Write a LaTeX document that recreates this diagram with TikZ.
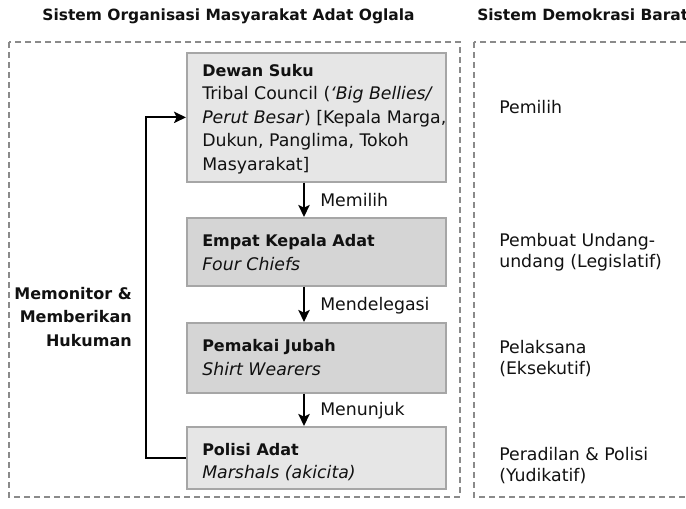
\documentclass[tikz,border=0pt]{standalone}
\usepackage{fontspec}
\setmainfont{DejaVu Sans}
\usetikzlibrary{arrows.meta}
\definecolor{lightbox}{HTML}{E6E6E6}
\definecolor{darkbox}{HTML}{D5D5D5}
\definecolor{boxline}{HTML}{A6A6A6}
\definecolor{dashline}{HTML}{8A8A8A}
\definecolor{ink}{HTML}{111111}
\begin{document}
\begin{tikzpicture}[x=0.75pt,y=-0.75pt,
  panel/.style={draw=dashline, line width=1.4pt, dash pattern=on 4.3pt off 3.2pt},
  orgbox/.style={draw=boxline, line width=1.3pt, minimum width=259*0.75pt, inner sep=0pt, anchor=north west},
  boxtext/.style={anchor=north west, align=left, inner sep=0pt, text=ink, font=\fontsize{13}{17.6}\selectfont},
  boxhead/.style={font=\fontsize{12}{17.6}\selectfont\bfseries},
  coltext/.style={anchor=north west, align=left, inner sep=0pt, text=ink, font=\fontsize{13}{15.75}\selectfont},
  steplabel/.style={anchor=base west, inner sep=0pt, text=ink, font=\fontsize{13}{15}\selectfont},
  titletext/.style={inner sep=0pt, text=ink, font=\fontsize{11.6}{14}\selectfont\bfseries},
  sidelabel/.style={anchor=north east, align=right, inner sep=0pt, text=ink, font=\fontsize{12}{17.6}\selectfont\bfseries},
  arr/.style={draw=black, line width=1.4pt, -{Stealth[length=9pt,width=8.5pt,inset=2pt]}}
]
\useasboundingbox (0,0) rectangle (686,508);
\clip (0,0) rectangle (686,508);

% titles
\node[titletext, anchor=base] (t1) at (228.5,20) {Sistem Organisasi Masyarakat Adat Oglala};
\node[titletext, anchor=base west] (t2) at (477,20) {Sistem Demokrasi Barat};

% panels
\draw[panel] (9,42) rectangle (460,497);
\draw[panel] (474,42) rectangle (720,497);

% boxes
\node[orgbox, fill=lightbox, minimum height=129*0.75pt] (dewan) at (186,52) {};
\node[orgbox, fill=darkbox, minimum height=68*0.75pt] (empat) at (186,217) {};
\node[orgbox, fill=darkbox, minimum height=70*0.75pt] (jubah) at (186,322) {};
\node[orgbox, fill=lightbox, minimum height=62*0.75pt] (polisi) at (186,426) {};

\node[boxtext] (dewantxt) at (202,63.8) {{\fontsize{12}{17.6}\selectfont\bfseries Dewan Suku}\\Tribal Council (\textit{‘Big Bellies/}\\\textit{Perut Besar}) [Kepala Marga,\\Dukun, Panglima, Tokoh\\Masyarakat]};
\node[boxtext] (empattxt) at (202,234.5) {{\fontsize{12}{17.6}\selectfont\bfseries Empat Kepala Adat}\\\textit{Four Chiefs}};
\node[boxtext] (jubahtxt) at (202,339.5) {{\fontsize{12}{17.6}\selectfont\bfseries Pemakai Jubah}\\\textit{Shirt Wearers}};
\node[boxtext] (polisitxt) at (202,442.8) {{\fontsize{12}{17.6}\selectfont\bfseries Polisi Adat}\\\textit{Marshals (akicita)}};

% vertical arrows
\coordinate (ax) at (304,0);
\draw[arr] (dewan.south -| ax) -- (empat.north -| ax);
\draw[arr] (empat.south -| ax) -- (jubah.north -| ax);
\draw[arr] (jubah.south -| ax) -- (polisi.north -| ax);
\node[steplabel] (l1) at (320,206.7) {Memilih};
\node[steplabel] (l2) at (320,310) {Mendelegasi};
\node[steplabel] (l3) at (320,415) {Menunjuk};

% feedback loop
\coordinate (lx) at (146,0);
\draw[arr] (polisi.west) -- (polisi.west -| lx) |- (dewan.west);
\node[sidelabel] (side) at (132,286.8) {Memonitor \&\\Memberikan\\Hukuman};

% right column
\node[coltext] (c1) at (499,99.8) {Pemilih};
\node[coltext] (c2) at (499,233.5) {Pembuat Undang-\\undang (Legislatif)};
\node[coltext] (c3) at (499,339.8) {Pelaksana\\(Eksekutif)};
\node[coltext] (c4) at (499,446.8) {Peradilan \& Polisi\\(Yudikatif)};
\end{tikzpicture}
\end{document}
